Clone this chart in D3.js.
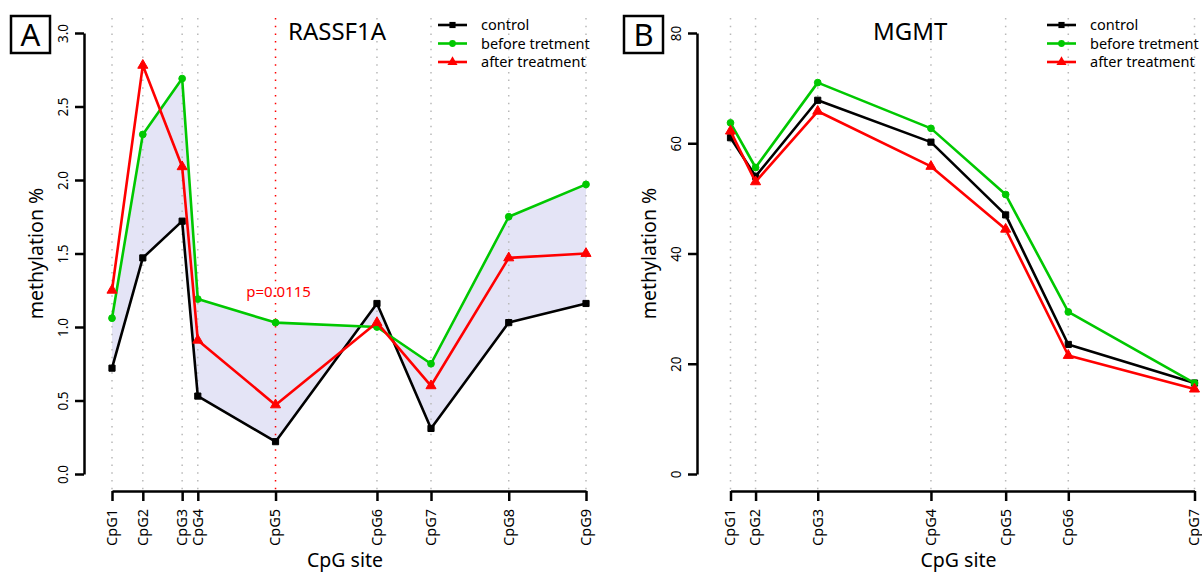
<!DOCTYPE html>
<html>
<head>
<meta charset="utf-8">
<title>methylation</title>
<style>
body { margin: 0; background: #fff; }
svg text { font-family: "Noto Sans", sans-serif; }
</style>
</head>
<body>
<div id="chart"></div>
<script src="https://cdn.jsdelivr.net/npm/d3@7/dist/d3.min.js"></script>
<script>

// RASSF1A (panel A)
var sitesA = ['CpG1', 'CpG2', 'CpG3', 'CpG4', 'CpG5', 'CpG6', 'CpG7', 'CpG8', 'CpG9'];
var posA = [0, 6.5, 14.8, 18.1, 34.5, 55.9, 67.3, 83.7, 100];   // relative site position
var controlA = [0.72, 1.47, 1.72, 0.53, 0.22, 1.16, 0.31, 1.03, 1.16];
var beforeA  = [1.06, 2.31, 2.69, 1.19, 1.03, 1.00, 0.75, 1.75, 1.97];
var afterA   = [1.25, 2.78, 2.09, 0.91, 0.47, 1.03, 0.60, 1.47, 1.50];
var ticksA = [0, 0.5, 1, 1.5, 2, 2.5, 3];

// MGMT (panel B)
var sitesB = ['CpG1', 'CpG2', 'CpG3', 'CpG4', 'CpG5', 'CpG6', 'CpG7'];
var posB = [0, 5.4, 18.8, 43.2, 59.3, 72.8, 100];
var controlB = [61.0, 54.0, 67.8, 60.2, 47.0, 23.5, 16.5];
var beforeB  = [63.7, 55.6, 71.0, 62.7, 50.7, 29.4, 16.5];
var afterB   = [62.2, 53.0, 65.8, 55.8, 44.4, 21.5, 15.4];
var ticksB = [0, 20, 40, 60, 80];

var seriesNames = ['control', 'before tretment', 'after treatment'];
var colors = ['#000000', '#00c800', '#ff0000'];
var shapes = [d3.symbolSquare, d3.symbolCircle, d3.symbolTriangle];
var shapeSize = [38, 36, 44];

var svg = d3.select('#chart')
.append('svg')
.attr('width', 1202)
.attr('height', 573)
.style('background', '#fff');

var yBottom = 474, yTop = 33, xAxisY = 491;

function panel(p) {
    var g = svg.append('g');
    var x = d3.scaleLinear().domain([0, 100]).range(p.xr);
    var y = d3.scaleLinear().domain([p.yt[0], p.yt[p.yt.length-1]]).range([yBottom, yTop]);

    var line = d3.line()
    .x((d,i) => x(p.pos[i]))
    .y(d => y(d));

    // shaded band between before and control
    if (p.shade) {
        var pts = p.series[1].map((d,i) => [x(p.pos[i]), y(d)]);
        var back = p.series[0].map((d,i) => [x(p.pos[i]), y(d)]).reverse();
        g.append('path')
        .attr('d', 'M' + pts.concat(back).join('L') + 'Z')
        .attr('fill', '#e4e4f6')
        .attr('stroke', 'none');
    }

    // dotted verticals
    g.selectAll('.grid')
    .data(p.pos)
    .enter().append('line')
    .attr('x1', d => x(d)).attr('x2', d => x(d))
    .attr('y1', 18).attr('y2', xAxisY)
    .attr('stroke', (d,i) => i === p.sig ? '#ff0000' : '#b9b9b9')
    .attr('stroke-width', 1.5)
    .attr('stroke-dasharray', '1.5,6.2');

    // lines + markers
    p.series.forEach((s, k) => {
        g.append('path')
        .attr('d', line(s))
        .attr('fill', 'none')
        .attr('stroke', colors[k])
        .attr('stroke-width', 2.6)
        .attr('stroke-linejoin', 'round');

        g.selectAll('.m' + k)
        .data(s)
        .enter().append('path')
        .attr('d', d3.symbol().type(shapes[k]).size(shapeSize[k]))
        .attr('transform', (d,i) => 'translate(' + x(p.pos[i]) + ',' + y(d) + ')')
        .attr('fill', colors[k])
        .attr('stroke', colors[k])
        .attr('stroke-width', 1);
    });

    // y axis
    var ya = g.append('g')
    .attr('transform', 'translate(' + p.yx + ',0)')
    .call(d3.axisLeft(y).tickValues(p.yt).tickFormat(p.fmt).tickSizeInner(9).tickSizeOuter(0));
    ya.select('.domain').attr('stroke-width', 2.5);
    ya.selectAll('.tick line').attr('stroke-width', 2.5);
    ya.selectAll('.tick text')
    .attr('x', null).attr('dy', null)
    .attr('transform', 'translate(-16,0) rotate(-90)')
    .attr('text-anchor', 'middle')
    .style('font-size', '13.5px')
    .style('font-family', '"Noto Sans", sans-serif')
    .attr('fill', '#000');

    // x axis
    var xa = g.append('g')
    .attr('transform', 'translate(0,' + xAxisY + ')')
    .call(d3.axisBottom(x).tickValues(p.pos).tickFormat((d,i) => p.sites[i]).tickSizeInner(10).tickSizeOuter(0));
    xa.select('.domain').attr('stroke-width', 2.5);
    xa.selectAll('.tick line').attr('stroke-width', 2.5);
    xa.selectAll('.tick text')
    .attr('y', null)
    .attr('dy', '0.3em')
    .attr('transform', 'translate(0,18) rotate(-90)')
    .attr('text-anchor', 'end')
    .style('font-size', '14.5px')
    .style('font-family', '"Noto Sans", sans-serif')
    .attr('fill', '#000');

    // axis titles
    g.append('text')
    .attr('transform', 'translate(' + (p.yx - 41) + ',' + ((yTop + yBottom)/2) + ') rotate(-90)')
    .attr('text-anchor', 'middle')
    .style('font-size', '19.5px')
    .text('methylation %');

    g.append('text')
    .attr('x', (p.xr[0] + p.xr[1])/2 - 4)
    .attr('y', 567)
    .attr('text-anchor', 'middle')
    .style('font-size', '19.5px')
    .text('CpG site');

    // panel letter
    g.append('rect')
    .attr('x', p.box).attr('y', 16)
    .attr('width', 39).attr('height', 37)
    .attr('fill', 'none')
    .attr('stroke', '#000')
    .attr('stroke-width', 2.5);
    g.append('text')
    .attr('x', p.box + 19.5).attr('y', 46)
    .attr('text-anchor', 'middle')
    .style('font-size', '31px')
    .text(p.letter);

    // gene title
    g.append('text')
    .attr('x', p.tx).attr('y', 40)
    .style('font-size', '24px')
    .text(p.title);

    // legend
    seriesNames.forEach((name, k) => {
        var ly = 25 + k*18.5;
        g.append('line')
        .attr('x1', p.lx).attr('x2', p.lx + 29)
        .attr('y1', ly).attr('y2', ly)
        .attr('stroke', colors[k])
        .attr('stroke-width', 2.6);
        g.append('path')
        .attr('d', d3.symbol().type(shapes[k]).size(shapeSize[k]))
        .attr('transform', 'translate(' + (p.lx + 14.5) + ',' + ly + ')')
        .attr('fill', colors[k]);
        g.append('text')
        .attr('x', p.lx + 43).attr('y', ly)
        .attr('dy', '0.35em')
        .style('font-size', '14.5px')
        .text(name);
    });

    return {g: g, x: x, y: y};
}

var A = panel({
    sites: sitesA, pos: posA, series: [controlA, beforeA, afterA],
    yt: ticksA, fmt: d3.format('.1f'),
    xr: [112, 586], yx: 84, shade: true, sig: 4,
    box: 11, letter: 'A', title: 'RASSF1A', tx: 288, lx: 438
});

A.g.append('text')
.attr('x', A.x(posA[4]) + 3)
.attr('y', 297)
.attr('text-anchor', 'middle')
.attr('fill', '#ff0000')
.style('font-size', '15px')
.text('p=0.0115');

panel({
    sites: sitesB, pos: posB, series: [controlB, beforeB, afterB],
    yt: ticksB, fmt: d3.format('d'),
    xr: [730.5, 1194.5], yx: 697, shade: false, sig: -1,
    box: 624, letter: 'B', title: 'MGMT', tx: 873, lx: 1047
});

</script>
</body>
</html>
